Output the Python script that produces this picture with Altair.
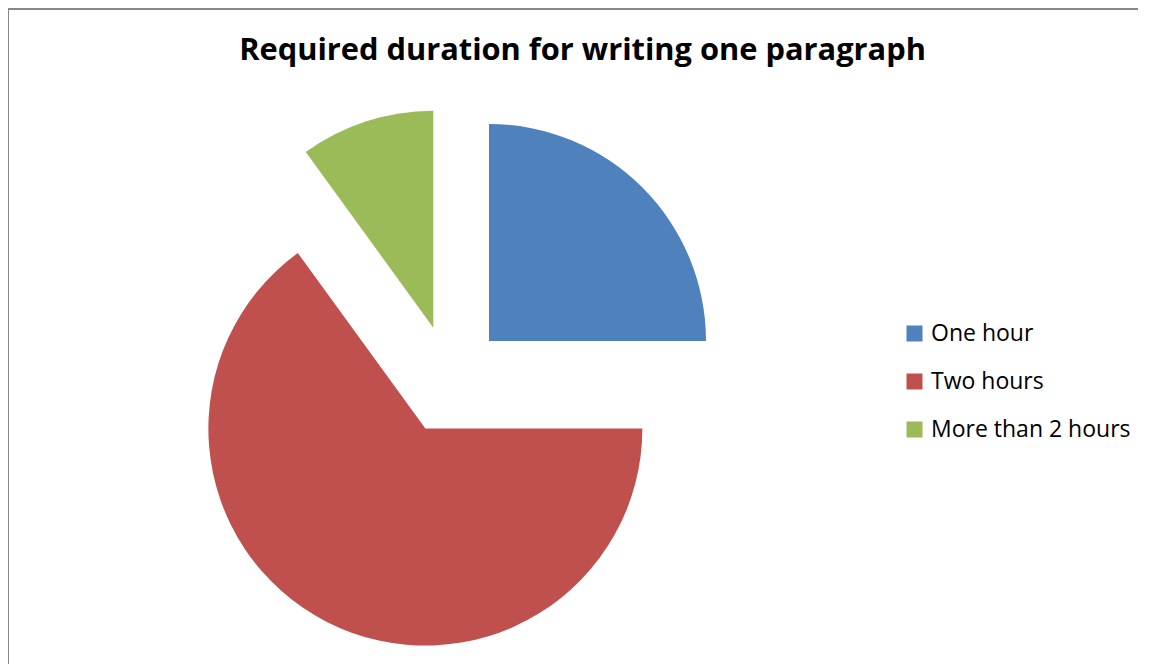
import altair as alt
import pandas as pd

categories = ["One hour", "Two hours", "More than 2 hours"]
values = [25, 65, 10]
colors = ["#4F81BD", "#C0504D", "#9BBB59"]
title_text = "Required duration for writing one paragraph"

CX, CY = 442.25, 371.75   # pie centre (view px)
R = 217                   # radius
OFF = 54.8                # explode distance

df = pd.DataFrame({"category": categories, "value": values, "order": list(range(len(categories)))})

W, H = 1130, 656

pie = (
    alt.Chart(df)
    .transform_window(cum="sum(value)", sort=[alt.SortField("order")], frame=[None, 0])
    .transform_joinaggregate(total="sum(value)")
    .transform_calculate(
        t0="2*PI*(datum.cum-datum.value)/datum.total",
        t1="2*PI*datum.cum/datum.total",
    )
    .transform_calculate(mid="(datum.t0+datum.t1)/2")
    .transform_calculate(
        px=f"{CX}+{OFF}*sin(datum.mid)",
        py=f"{CY}-{OFF}*cos(datum.mid)",
    )
    .mark_arc(radius=R, strokeWidth=0)
    .encode(
        theta=alt.Theta("t0:Q", scale=None),
        theta2="t1:Q",
        x=alt.X("px:Q", scale=None),
        y=alt.Y("py:Q", scale=None),
        color=alt.Color(
            "category:N",
            scale=alt.Scale(domain=categories, range=colors),
            sort=categories,
            legend=alt.Legend(
                title=None,
                orient="none",
                legendX=895,
                legendY=314,
                symbolType="square",
                symbolSize=256,
                symbolStrokeWidth=0,
                symbolOpacity=1,
                labelFontSize=23,
                labelFont="Open Sans",
                labelColor="#000000",
                labelOffset=5,
                labelLimit=400,
                rowPadding=24,
            ),
        ),
        order=alt.Order("order:Q"),
    )
)

title = (
    alt.Chart(pd.DataFrame({"t": [title_text]}))
    .mark_text(font="Open Sans", fontSize=30.8, fontWeight="bold", color="#000000", align="center", baseline="alphabetic")
    .encode(text="t:N", x=alt.value(574.5), y=alt.value(51.5))
)

border_top = (
    alt.Chart(pd.DataFrame({"a": [0]}))
    .mark_rule(color="#888888", strokeWidth=2)
    .encode(x=alt.value(-2), x2=alt.value(W + 40), y=alt.value(1))
)
border_left = (
    alt.Chart(pd.DataFrame({"a": [0]}))
    .mark_rule(color="#888888", strokeWidth=2)
    .encode(x=alt.value(0), y=alt.value(0), y2=alt.value(H + 40))
)

chart = (
    alt.layer(border_top, border_left, pie, title)
    .properties(width=W, height=H, padding=0, autosize=alt.AutoSizeParams(type="none"))
    .configure_view(strokeWidth=0, stroke="transparent")
    .configure(background="#FFFFFF")
)

chart.save("out.html", embed_options={"renderer": "svg", "actions": False})
